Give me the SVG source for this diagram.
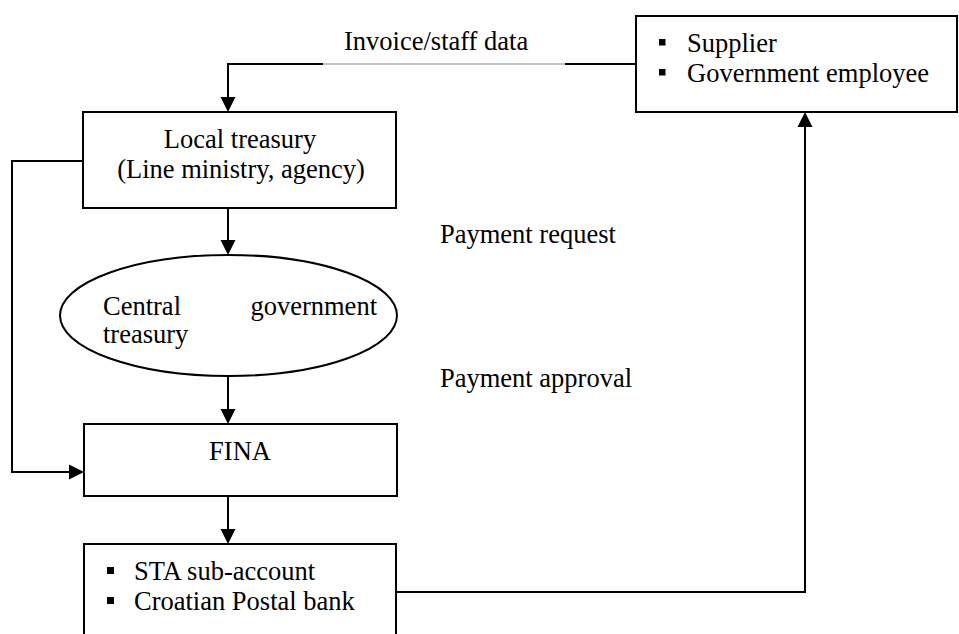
<svg xmlns="http://www.w3.org/2000/svg" width="959" height="634" viewBox="0 0 959 634">
<style>
.box{fill:#fff;stroke:#000;stroke-width:2}
.ln{fill:none;stroke:#000;stroke-width:2}
.ah{fill:#000}
.t{font-family:"Liberation Serif","Times New Roman",serif;font-size:26.5px;fill:#000}
.c{text-anchor:middle}
</style>
<rect width="959" height="634" fill="#fff"/>
<g id="connectors">
<path class="ln" d="M323,64 H228 V98"/>
<path class="ah" d="M228,112 l-7.5,-15 h15 Z"/>
<line x1="323" y1="64" x2="565" y2="64" stroke="#888" stroke-width="1"/>
<line class="ln" x1="565" y1="64" x2="636" y2="64"/>
<line class="ln" x1="228" y1="208" x2="228" y2="241"/>
<path class="ah" d="M228,255 l-7.5,-15 h15 Z"/>
<line class="ln" x1="228" y1="376" x2="228" y2="410"/>
<path class="ah" d="M228,424 l-7.5,-15 h15 Z"/>
<line class="ln" x1="228" y1="496" x2="228" y2="530"/>
<path class="ah" d="M228,544 l-7.5,-15 h15 Z"/>
<path class="ln" d="M83,161 H12 V472 H70"/>
<path class="ah" d="M84,472 l-15,-7.5 v15 Z"/>
<path class="ln" d="M396,592 H805 V126"/>
<path class="ah" d="M805,112 l-7.5,15 h15 Z"/>
<text class="t" x="344" y="50">Invoice/staff data</text>
<text class="t" x="440" y="243">Payment request</text>
<text class="t" x="440" y="387">Payment approval</text>
</g>
<g id="supplier">
<rect class="box" x="636" y="16" width="321" height="96"/>
<rect x="659" y="39" width="6.5" height="6.5" fill="#000"/>
<rect x="659" y="69" width="6.5" height="6.5" fill="#000"/>
<text class="t" x="687" y="52">Supplier</text>
<text class="t" x="687" y="82">Government employee</text>
</g>
<g id="local-treasury">
<rect class="box" x="83" y="112" width="313" height="96"/>
<text class="t c" x="240" y="148">Local treasury</text>
<text class="t c" x="241" y="178">(Line ministry, agency)</text>
</g>
<g id="central-treasury">
<ellipse class="box" cx="228.5" cy="315.5" rx="168.5" ry="60.5"/>
<text class="t" x="103" y="315">Central</text>
<text class="t" x="377" y="315" text-anchor="end">government</text>
<text class="t" x="103" y="343">treasury</text>
</g>
<g id="fina">
<rect class="box" x="84" y="424" width="313" height="72"/>
<text class="t c" x="240" y="460">FINA</text>
</g>
<g id="sta">
<rect class="box" x="84" y="544" width="312" height="100"/>
<rect x="107" y="567" width="7" height="7" fill="#000"/>
<rect x="107" y="597" width="7" height="7" fill="#000"/>
<text class="t" x="134" y="580">STA sub-account</text>
<text class="t" x="134" y="610">Croatian Postal bank</text>
</g>
</svg>
